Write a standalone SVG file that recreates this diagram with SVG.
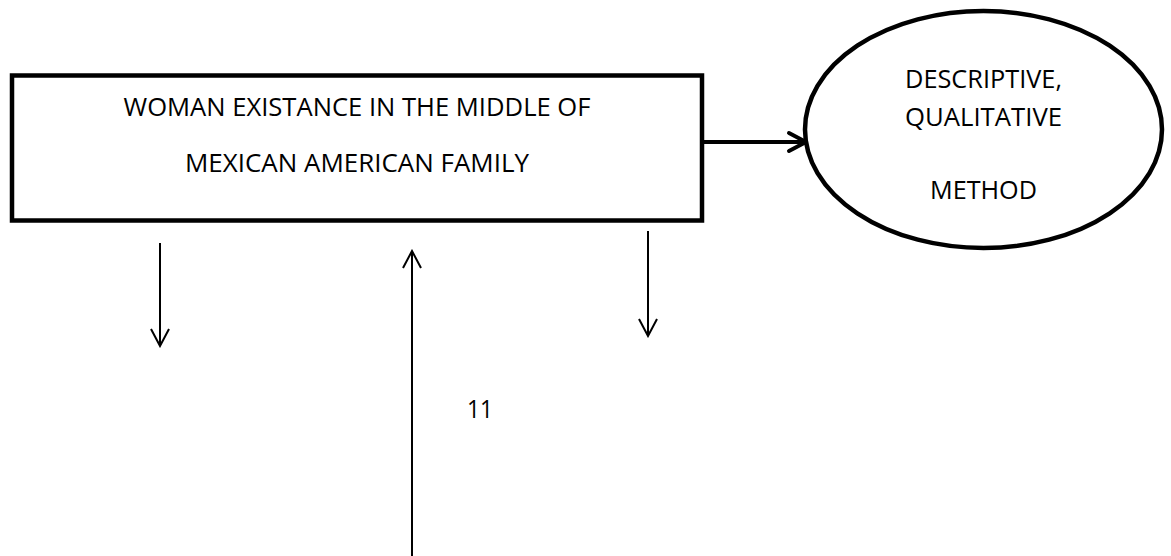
<svg xmlns="http://www.w3.org/2000/svg" width="1171" height="556" viewBox="0 0 1171 556">
  <defs>
    <style>
      .shape { fill: #ffffff; stroke: #000000; stroke-width: 4.5; }
      .lbl { font-family: "Open Sans", "Liberation Sans", sans-serif; font-size: 25px; fill: #000000; text-anchor: middle; }
      .thin { stroke: #000000; stroke-width: 2; fill: none; }
      .thick { stroke: #000000; stroke-width: 4; fill: none; }
    </style>
    <marker id="headThin" viewBox="0 0 20 20" refX="18" refY="10" markerWidth="20" markerHeight="20" markerUnits="userSpaceOnUse" orient="auto">
      <path d="M1,1 L18,10 L1,19" fill="none" stroke="#000" stroke-width="2"/>
    </marker>
    <marker id="headThick" viewBox="0 0 24 24" refX="21" refY="12" markerWidth="24" markerHeight="24" markerUnits="userSpaceOnUse" orient="auto">
      <path d="M4,3 L21,12 L4,21" fill="none" stroke="#000" stroke-width="4" stroke-linecap="round" stroke-linejoin="round"/>
    </marker>
  </defs>
  <rect width="1171" height="556" fill="#ffffff"/>

  <g id="connectors">
    <line class="thick" x1="702" y1="142" x2="806" y2="142" marker-end="url(#headThick)"/>
    <line class="thin" x1="160" y1="243" x2="160" y2="346" marker-end="url(#headThin)"/>
    <line class="thin" x1="412" y1="556" x2="412" y2="251" marker-end="url(#headThin)"/>
    <line class="thin" x1="648" y1="231" x2="648" y2="336" marker-end="url(#headThin)"/>
  </g>

  <g id="node-topic">
    <rect class="shape" x="12" y="75.5" width="690" height="145"/>
    <text class="lbl" x="357" y="116" textLength="467" lengthAdjust="spacingAndGlyphs">WOMAN EXISTANCE IN THE MIDDLE OF</text>
    <text class="lbl" x="357" y="172" textLength="344" lengthAdjust="spacingAndGlyphs">MEXICAN AMERICAN FAMILY</text>
  </g>

  <g id="node-method">
    <ellipse class="shape" cx="983.5" cy="129.5" rx="178.5" ry="118.5"/>
    <text class="lbl" x="983.5" y="88" textLength="157" lengthAdjust="spacingAndGlyphs">DESCRIPTIVE,</text>
    <text class="lbl" x="983.5" y="126" textLength="157" lengthAdjust="spacingAndGlyphs">QUALITATIVE</text>
    <text class="lbl" x="983.5" y="199" textLength="107" lengthAdjust="spacingAndGlyphs">METHOD</text>
  </g>

  <g id="label-11">
    <text class="lbl" x="480" y="418" textLength="26" lengthAdjust="spacingAndGlyphs">11</text>
  </g>
</svg>
